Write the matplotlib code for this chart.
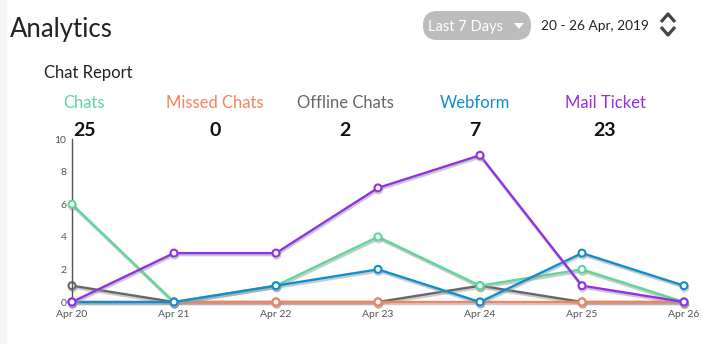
import matplotlib.pyplot as plt
import matplotlib.patheffects as pe
from matplotlib.patches import FancyBboxPatch, Polygon
from matplotlib.lines import Line2D
import numpy as np

plt.rcParams['font.family'] = ['Lato', 'DejaVu Sans']

days = ["Apr 20", "Apr 21", "Apr 22", "Apr 23", "Apr 24", "Apr 25", "Apr 26"]
series_names = ["Chats", "Missed Chats", "Offline Chats", "Webform", "Mail Ticket"]
totals = [25, 0, 2, 7, 23]
chats = [6, 0, 1, 4, 1, 2, 0]
missed = [0, 0, 0, 0, 0, 0, 0]
offline = [1, 0, 0, 0, 1, 0, 0]
webform = [0, 0, 1, 2, 0, 3, 1]
mail = [0, 3, 3, 7, 9, 1, 0]

colors = ["#5cd69c", "#f4825f", "#666666", "#0e8dcf", "#9131e6"]
values = [chats, missed, offline, webform, mail]
# drawing order: offline at the bottom, mail ticket on top
zorders = [3, 4, 2, 5, 6]

fig = plt.figure(figsize=(7.26, 3.44), dpi=100)
W, H = 726, 344

def fx(x):
    return x / W

def fy(y):
    return 1 - y / H

# pixel -> inch helpers for shapes that need true aspect
px = fig.dpi_scale_trans
def ix(x):
    return x / 100.0

def iy(y):
    return (H - y) / 100.0

# faint strip on the left edge
fig.patches.append(plt.Rectangle((0, 0), fx(6), 1, transform=fig.transFigure,
                                 color="#f3f5f7", zorder=0))

fig.text(fx(10), fy(29), "Analytics", fontsize=18.5, color="#222222", va="center", ha="left")

# date range pill
pill = FancyBboxPatch((ix(423), iy(40)), ix(108), 0.29,
                      boxstyle="round,pad=0,rounding_size=0.145",
                      transform=px, facecolor="#bcbcbc", edgecolor="none")
fig.patches.append(pill)
fig.text(fx(465), fy(27), "Last 7 Days", fontsize=10.5, color="white", va="center", ha="center")
tri = Polygon([(ix(514), iy(23)), (ix(524), iy(23)), (ix(519), iy(29))], closed=True,
              transform=px, facecolor="white", edgecolor="none")
fig.patches.append(tri)
fig.text(fx(541), fy(26), "20 - 26 Apr, 2019", fontsize=9.8, color="#222222", va="center", ha="left")
for ys in [(22, 14, 22), (27, 35, 27)]:
    fig.lines.append(Line2D([ix(661), ix(668), ix(675)], [iy(ys[0]), iy(ys[1]), iy(ys[2])],
                            transform=px, color="#444444", lw=2.3, solid_capstyle="butt"))

fig.text(fx(44), fy(73), "Chat Report", fontsize=12, color="#222222", va="center", ha="left")

label_x = [84, 215, 345, 475, 605]
for name, tot, c, lx in zip(series_names, totals, colors, label_x):
    fig.text(fx(lx), fy(103), name, fontsize=12, color=c, va="center", ha="center")
    fig.text(fx(lx), fy(130), str(tot), fontsize=14, color="#111111", va="center",
             ha="center", fontweight="bold")

ax = fig.add_axes([fx(72), fy(302), fx(684) - fx(72), fy(139) - fy(302)])
x = np.arange(len(days))
shadow = [pe.SimpleLineShadow(offset=(0.5, -1.5), shadow_color="#999999", alpha=0.5), pe.Normal()]
for vals, c, z in zip(values, colors, zorders):
    ax.plot(x, vals, color=c, lw=1.7, marker="o", ms=5, mfc="white", mec=c, mew=1.5,
            path_effects=shadow, clip_on=False, zorder=z)

ax.set_xlim(0, len(days) - 1)
ax.set_ylim(0, 10)
ax.set_xticks(x)
ax.set_xticklabels(days)
ax.set_yticks(range(0, 11, 2))
ax.tick_params(axis="both", labelsize=7.5, colors="#555555", length=0, pad=6)
ax.tick_params(axis="y", pad=4)
for s in ["top", "right", "bottom"]:
    ax.spines[s].set_visible(False)
ax.spines["left"].set_color("#555555")
ax.spines["left"].set_linewidth(1)
ax.patch.set_alpha(0)

fig.savefig("out.png", dpi=100)
